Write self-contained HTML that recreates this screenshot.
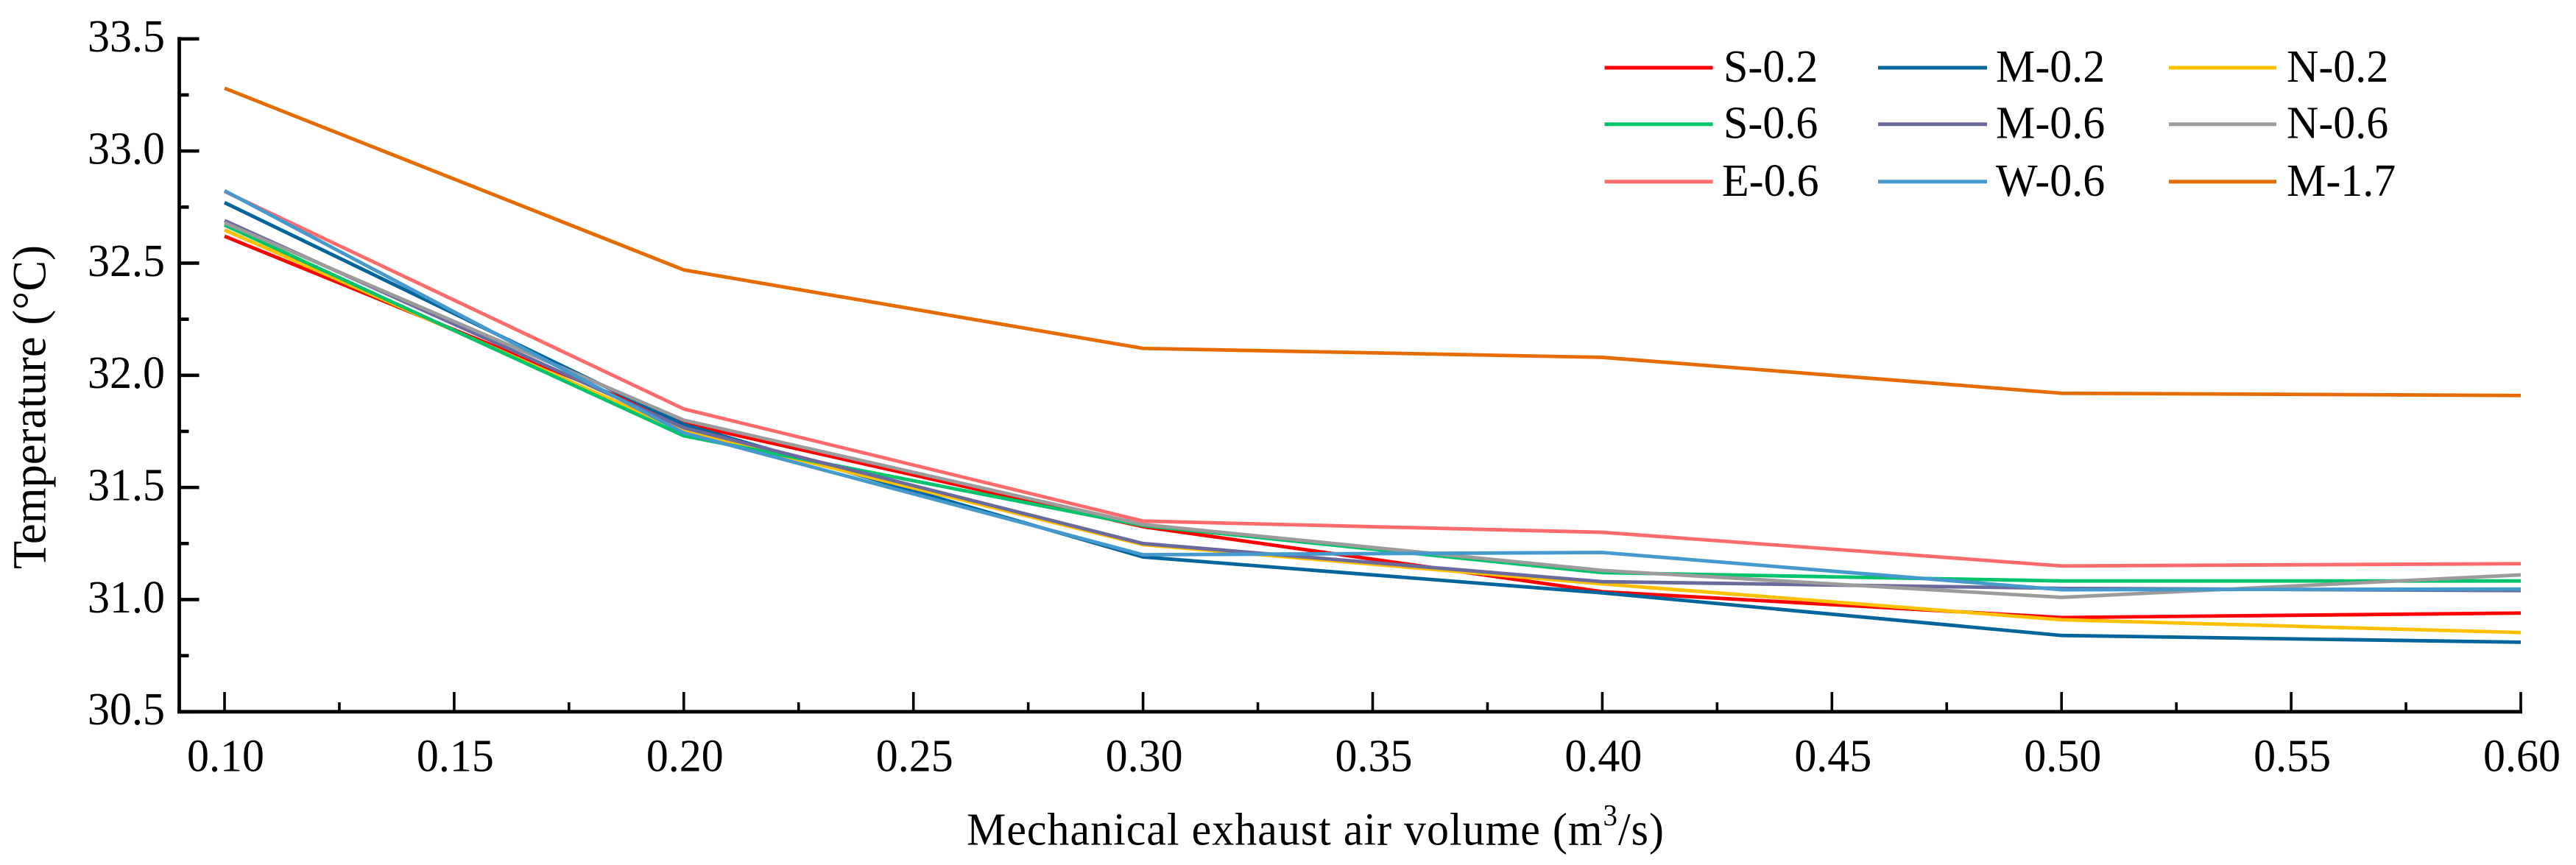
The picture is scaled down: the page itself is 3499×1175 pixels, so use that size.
<!DOCTYPE html>
<html lang="en">
<head>
<meta charset="utf-8">
<title>Temperature vs mechanical exhaust air volume</title>
<style>
html,body{margin:0;padding:0;background:#fff;width:3499px;height:1175px;overflow:hidden}
svg{display:block}
text{font-family:"Liberation Serif","Times New Roman",serif;font-size:60px;fill:#000}
</style>
</head>
<body>
<svg id="chart" xmlns="http://www.w3.org/2000/svg" width="3499" height="1175" viewBox="0 0 3499 1175">
  <rect x="0" y="0" width="3499" height="1175" fill="#fff"/>
  <g id="series-layer"></g>
  <g id="axis-layer">
    <line x1="243.5" y1="50.3" x2="243.5" y2="969.2" stroke="#000" stroke-width="4.8"/>
    <line x1="241" y1="966.8" x2="3426" y2="966.8" stroke="#000" stroke-width="4.8"/>
  </g>
  <text transform="translate(1313 1147.3) scale(1 1.05)" x="0" y="0" textLength="947" lengthAdjust="spacing">Mechanical exhaust air volume (m<tspan font-size="39" dy="-25">3</tspan><tspan dy="25">/s)</tspan></text>
  <text transform="translate(61.7 553) rotate(-90) scale(1 1.03)" text-anchor="middle" style="font-size:62.7px">Temperature (°C)</text>
  <g stroke-width="5">
    <g><line x1="2179.5" x2="2326.5" y1="92" y2="92" stroke="#FF0000"/><text transform="translate(2341 111) scale(1 1.05)">S-0.2</text></g>
    <g><line x1="2551" x2="2699" y1="92" y2="92" stroke="#00659B"/><text transform="translate(2711 111) scale(1 1.05)">M-0.2</text></g>
    <g><line x1="2946" x2="3092" y1="92" y2="92" stroke="#FFC000"/><text transform="translate(3106 111) scale(1 1.05)">N-0.2</text></g>
    <g><line x1="2179.5" x2="2326.5" y1="168.7" y2="168.7" stroke="#00C46C"/><text transform="translate(2341 187.7) scale(1 1.05)">S-0.6</text></g>
    <g><line x1="2551" x2="2699" y1="168.7" y2="168.7" stroke="#6A6A9F"/><text transform="translate(2711 187.7) scale(1 1.05)">M-0.6</text></g>
    <g><line x1="2946" x2="3092" y1="168.7" y2="168.7" stroke="#9B9B9B"/><text transform="translate(3106 187.7) scale(1 1.05)">N-0.6</text></g>
    <g><line x1="2179.5" x2="2326.5" y1="246.7" y2="246.7" stroke="#FF6B6B"/><text transform="translate(2339 266) scale(1 1.05)">E-0.6</text></g>
    <g><line x1="2551" x2="2699" y1="246.7" y2="246.7" stroke="#4599CC"/><text transform="translate(2711 266) scale(1 1.05)">W-0.6</text></g>
    <g><line x1="2946" x2="3092" y1="246.7" y2="246.7" stroke="#E66B00"/><text transform="translate(3106 266) scale(1 1.05)">M-1.7</text></g>
  </g>
</svg>
<script>
var airVolume = [0.1, 0.2, 0.3, 0.4, 0.5, 0.6];
var seriesS02 = [32.62, 31.786, 31.325, 31.035, 30.92, 30.94];
var seriesM02 = [32.77, 31.78, 31.19, 31.03, 30.84, 30.81];
var seriesN02 = [32.648, 31.75, 31.245, 31.07, 30.91, 30.853];
var seriesS06 = [32.67, 31.73, 31.33, 31.12, 31.083, 31.083];
var seriesM06 = [32.69, 31.766, 31.25, 31.08, 31.05, 31.04];
var seriesN06 = [32.68, 31.8, 31.335, 31.13, 31.01, 31.11];
var seriesE06 = [32.82, 31.85, 31.35, 31.3, 31.15, 31.16];
var seriesW06 = [32.823, 31.743, 31.2, 31.21, 31.044, 31.047];
var seriesM17 = [33.28, 32.47, 32.12, 32.08, 31.92, 31.91];
var seriesNames = ['S-0.2', 'M-0.2', 'N-0.2', 'S-0.6', 'M-0.6', 'N-0.6', 'E-0.6', 'W-0.6', 'M-1.7'];
var seriesColors = ['#FF0000', '#00659B', '#FFC000', '#00C46C', '#6A6A9F', '#9B9B9B', '#FF6B6B', '#4599CC', '#E66B00'];
var seriesValues = [seriesS02, seriesM02, seriesN02, seriesS06, seriesM06, seriesN06, seriesE06, seriesW06, seriesM17];
var xTickLabels = ['0.10', '0.15', '0.20', '0.25', '0.30', '0.35', '0.40', '0.45', '0.50', '0.55', '0.60'];
var yTickLabels = ['30.5', '31.0', '31.5', '32.0', '32.5', '33.0', '33.5'];

var NS = 'http://www.w3.org/2000/svg';
function xScale(v) { return 305 + (v - 0.1) / 0.5 * 3119; }
function yScale(v) { return 966.8 - (v - 30.5) / 3 * 914; }

var seriesLayer = document.getElementById('series-layer');
var axisLayer = document.getElementById('axis-layer');

seriesValues.forEach(function (values, s) {
  var path = document.createElementNS(NS, 'polyline');
  
  
  path.setAttribute('fill', 'none');
  path.setAttribute('stroke', seriesColors[s]);
  path.setAttribute('stroke-width', '4.8');
  path.setAttribute('stroke-linejoin', 'round');
  path.setAttribute('points', values.map(function (v, i) {
    return xScale(airVolume[i]).toFixed(2) + ',' + yScale(v).toFixed(2);
  }).join(' '));
  seriesLayer.appendChild(path);
});

function addTick(x1, y1, x2, y2, width, name) {
  var t = document.createElementNS(NS, 'line');
  
  
  t.setAttribute('x1', x1);
  t.setAttribute('y1', y1);
  t.setAttribute('x2', x2);
  t.setAttribute('y2', y2);
  t.setAttribute('stroke', '#000');
  t.setAttribute('stroke-width', width);
  axisLayer.appendChild(t);
}

function addLabel(x, y, anchor, content, name) {
  var l = document.createElementNS(NS, 'text');
  
  
  l.setAttribute('transform', 'translate(' + x + ' ' + y + ') scale(1 1.05)');
  l.setAttribute('text-anchor', anchor);
  l.textContent = content;
  axisLayer.appendChild(l);
}

xTickLabels.forEach(function (label, i) {
  var v = parseFloat(label);
  var x = xScale(v);
  addTick(x, 940, x, 967, 3.6, 'x-major-tick-' + label);
  addLabel(x + 1.5, 1047.3, 'middle', label, 'x-tick-label-' + label);
  if (i < xTickLabels.length - 1) {
    var mx = xScale(v + 0.025);
    addTick(mx, 954, mx, 967, 3.6, 'x-minor-tick-' + (v + 0.025).toFixed(3));
  }
});

yTickLabels.forEach(function (label, i) {
  var v = parseFloat(label);
  var y = yScale(v);
  addTick(243, y, 270.5, y, 4.6, 'y-major-tick-' + label);
  addLabel(224, y + 17.3, 'end', label, 'y-tick-label-' + label);
  if (i < yTickLabels.length - 1) {
    var my = yScale(v + 0.25);
    addTick(243, my, 256.5, my, 4.6, 'y-minor-tick-' + (v + 0.25).toFixed(2));
  }
});
</script>
</body>
</html>
